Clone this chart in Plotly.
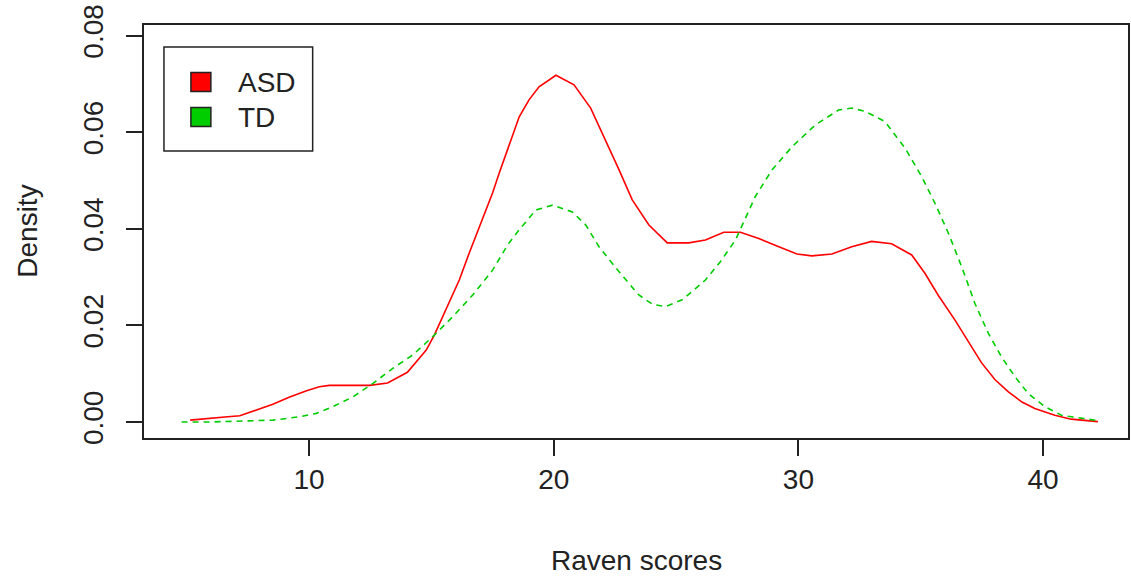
import plotly.graph_objects as go

# Kernel density estimates of Raven scores for the two groups
asd_x = [5.14, 5.87, 6.68, 7.17, 7.86, 8.52, 9.21, 9.90, 10.42, 10.83, 12.47, 13.21,
         14.02, 14.79, 15.13, 15.60, 16.14, 16.54, 16.96, 17.50, 17.77, 18.05, 18.59,
         18.99, 19.40, 20.09, 20.83, 21.51, 21.99, 22.67, 23.21, 23.89, 24.64, 25.52,
         26.20, 26.95, 27.63, 28.38, 29.20, 29.94, 30.55, 31.37, 32.18, 32.99, 33.81,
         34.63, 35.17, 35.72, 36.40, 36.94, 37.48, 38.03, 38.57, 39.12, 39.66, 40.48,
         41.15, 42.24]
asd_y = [0.0004, 0.0008, 0.0011, 0.0013, 0.0025, 0.0037, 0.0052, 0.0065, 0.0073, 0.0076,
         0.0076, 0.0081, 0.0103, 0.0149, 0.0181, 0.0232, 0.0294, 0.0349, 0.0404, 0.0474,
         0.0515, 0.0556, 0.0632, 0.0667, 0.0694, 0.0718, 0.0698, 0.0650, 0.0598, 0.0522,
         0.0460, 0.0408, 0.0371, 0.0371, 0.0377, 0.0393, 0.0393, 0.0380, 0.0363, 0.0348,
         0.0344, 0.0348, 0.0363, 0.0374, 0.0369, 0.0346, 0.0308, 0.0262, 0.0211, 0.0168,
         0.0123, 0.0088, 0.0063, 0.0042, 0.0028, 0.0014, 0.0006, 0.0001]

td_x = [4.79, 5.81, 8.53, 9.62, 10.30, 10.97, 11.79, 12.61, 13.42, 14.24, 15.06, 15.87,
        16.69, 17.51, 18.12, 18.59, 19.27, 19.95, 20.76, 21.31, 21.85, 22.67, 23.48,
        24.03, 24.57, 25.25, 26.20, 26.81, 27.43, 28.24, 28.92, 29.74, 30.69, 31.64,
        32.18, 32.73, 33.54, 34.36, 35.04, 35.58, 36.13, 36.67, 37.21, 37.76, 38.30,
        38.85, 39.39, 40.07, 40.75, 41.56, 42.24]
td_y = [0.0000, 0.0000, 0.0004, 0.0011, 0.0018, 0.0032, 0.0052, 0.0080, 0.0111, 0.0139,
        0.0177, 0.0218, 0.0263, 0.0315, 0.0367, 0.0398, 0.0439, 0.0449, 0.0435, 0.0408,
        0.0363, 0.0311, 0.0263, 0.0244, 0.0239, 0.0253, 0.0294, 0.0332, 0.0377, 0.0467,
        0.0522, 0.0570, 0.0615, 0.0646, 0.0650, 0.0643, 0.0622, 0.0567, 0.0508, 0.0453,
        0.0391, 0.0322, 0.0246, 0.0184, 0.0135, 0.0094, 0.0059, 0.0032, 0.0014, 0.0008,
        0.0003]

group_names = ["ASD", "TD"]
group_colors = ["#FF0000", "#00CD00"]

x_ticks = [10, 20, 30, 40]
y_ticks = [0.00, 0.02, 0.04, 0.06, 0.08]

FONT = "Liberation Sans, Arial, sans-serif"
FS = 28
INK = "#222222"

W, H = 1131, 580
L, R, T, B = 144, 1, 25, 142
PW, PH = W - L - R, H - T - B


def px(x):
    return (x - L) / PW


def py(y):
    return (H - B - y) / PH


fig = go.Figure()
fig.add_trace(go.Scatter(x=asd_x, y=asd_y, mode="lines", name=group_names[0],
                         line=dict(color=group_colors[0], width=1.6),
                         showlegend=False))
fig.add_trace(go.Scatter(x=td_x, y=td_y, mode="lines", name=group_names[1],
                         line=dict(color=group_colors[1], width=1.6, dash="6px,5px"),
                         showlegend=False))

# boxed key in the upper-left corner
shapes = [dict(type="rect", xref="paper", yref="paper",
               x0=px(164), x1=px(313), y0=py(151), y1=py(47),
               line=dict(color=INK, width=1.5), fillcolor="white", layer="above")]
annotations = []
for i, (name, col) in enumerate(zip(group_names, group_colors)):
    cy = 82 + 35 * i
    shapes.append(dict(type="rect", xref="paper", yref="paper",
                       x0=px(191), x1=px(211), y0=py(cy + 9.5), y1=py(cy - 9.5),
                       line=dict(color=INK, width=1.5), fillcolor=col, layer="above"))
    annotations.append(dict(text=name, xref="paper", yref="paper", x=px(236), y=py(cy),
                            xanchor="left", yanchor="middle", showarrow=False,
                            font=dict(family=FONT, size=FS, color=INK)))

annotations.append(dict(text="Density", xref="paper", yref="paper",
                        x=px(27), y=0.5, textangle=-90, xanchor="center", yanchor="middle",
                        showarrow=False, font=dict(family=FONT, size=FS, color=INK)))
annotations.append(dict(text="Raven scores", xref="paper", yref="paper",
                        x=0.5, y=py(560), xanchor="center", yanchor="middle",
                        showarrow=False, font=dict(family=FONT, size=FS, color=INK)))

fig.update_layout(
    width=W, height=H,
    margin=dict(l=L, r=R, t=T, b=B, pad=0),
    paper_bgcolor="white", plot_bgcolor="white",
    font=dict(family=FONT, size=FS, color=INK),
    shapes=shapes, annotations=annotations,
    xaxis=dict(range=[3.255, 43.47], tickvals=x_ticks, ticks="outside", ticklen=16,
               tickwidth=1.5, tickcolor=INK, showline=True, linecolor=INK, linewidth=1.5,
               mirror=True, showgrid=False, zeroline=False,
               tickfont=dict(family=FONT, size=FS, color=INK)),
    yaxis=dict(range=[-0.0033, 0.0822], tickvals=y_ticks, tickformat=".2f",
               ticks="outside", ticklen=16, tickwidth=1.5, tickcolor=INK,
               showline=True, linecolor=INK, linewidth=1.5, mirror=True,
               showgrid=False, zeroline=False, tickangle=-90, ticklabelstandoff=12,
               tickfont=dict(family=FONT, size=FS, color=INK)),
)

fig.write_html("out.html")
